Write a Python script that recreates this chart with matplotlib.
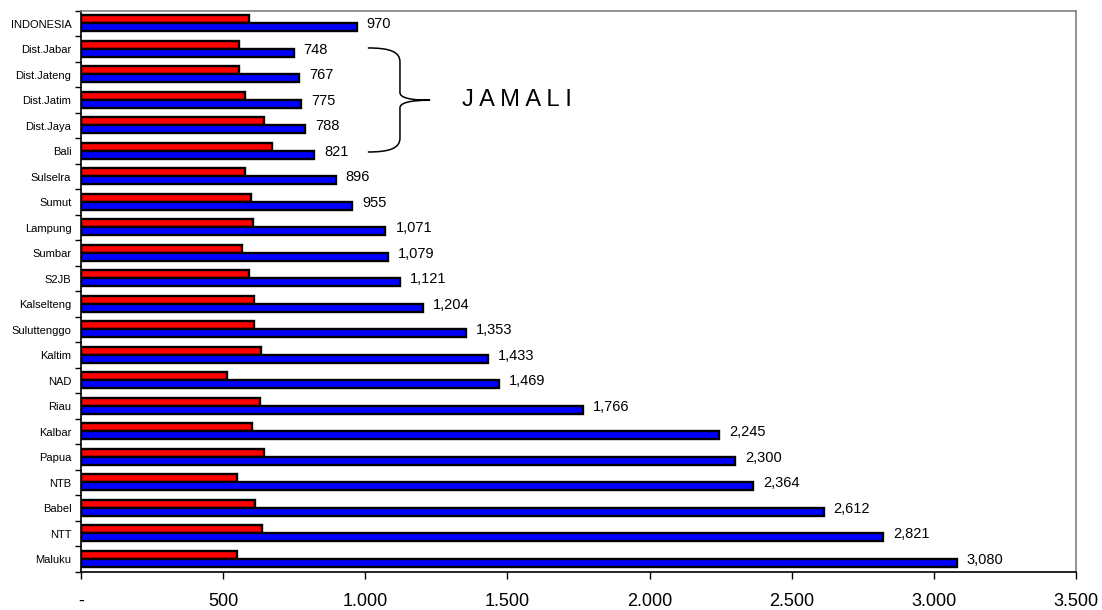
import numpy as np
import matplotlib.pyplot as plt
from matplotlib.path import Path
from matplotlib.patches import PathPatch
from matplotlib.ticker import FixedLocator

regions = ["INDONESIA", "Dist.Jabar", "Dist.Jateng", "Dist.Jatim", "Dist.Jaya", "Bali",
           "Sulselra", "Sumut", "Lampung", "Sumbar", "S2JB", "Kalselteng",
           "Suluttenggo", "Kaltim", "NAD", "Riau", "Kalbar", "Papua", "NTB",
           "Babel", "NTT", "Maluku"]
red_vals = [591, 556, 556, 577, 642, 671, 577, 597, 604, 568, 591, 609,
            609, 634, 515, 630, 603, 642, 550, 612, 637, 550]
blue_vals = [970, 748, 767, 775, 788, 821, 896, 955, 1071, 1079, 1121, 1204,
             1353, 1433, 1469, 1766, 2245, 2300, 2364, 2612, 2821, 3080]
x_ticks = [0, 500, 1000, 1500, 2000, 2500, 3000, 3500]
x_ticklabels = ["-", "500", "1.000", "1.500", "2.000", "2.500", "3.000", "3.500"]

plt.rcParams["font.family"] = ["Liberation Sans", "DejaVu Sans"]

fig = plt.figure(figsize=(11.02, 6.10), dpi=100)
ax = fig.add_axes([0.0735, 0.0623, 0.9029, 0.9197])

y = np.arange(len(regions))
h = 0.31

ax.barh(y - 0.17, red_vals, height=h, color="#ff0000",
        edgecolor="black", linewidth=1.7)
ax.barh(y + 0.14, blue_vals, height=h, color="#0000ff",
        edgecolor="black", linewidth=1.7)

# value labels for the blue series
for yi, v in zip(y, blue_vals):
    ax.text(v + 35, yi + 0.02, f"{v:,}", ha="left", va="center", fontsize=10.5)

ax.set_xlim(0, 3500)
ax.set_ylim(len(regions) - 0.5, -0.5)

ax.xaxis.set_major_locator(FixedLocator(x_ticks))
ax.set_xticklabels(x_ticklabels, fontsize=13)
ax.tick_params(axis="x", direction="out", length=5, width=1, pad=10)

ax.set_yticks(y)
ax.set_yticklabels(regions, fontsize=8)
ax.yaxis.set_minor_locator(FixedLocator(np.arange(-0.5, len(regions), 1.0)))
ax.tick_params(axis="y", which="major", length=0, pad=7)
ax.tick_params(axis="y", which="minor", direction="out", length=4, width=1)

for side in ["left", "bottom"]:
    ax.spines[side].set_color("black")
    ax.spines[side].set_linewidth(1.2)
for side in ["top", "right"]:
    ax.spines[side].set_color("#808080")
    ax.spines[side].set_linewidth(1.2)

# curly brace grouping the JAMALI regions
top, mid, bot = 0.95, 3.0, 5.03
x0, x1, xc = 1009, 1122, 1228
verts = [(x0, top), (x1 - 35, top), (x1, top + 0.15), (x1, top + 0.55),
         (x1, mid - 0.3),
         (x1, mid - 0.1), (x1 + 35, mid), (xc, mid),
         (x1 + 35, mid), (x1, mid + 0.1), (x1, mid + 0.3),
         (x1, bot - 0.55),
         (x1, bot - 0.15), (x1 - 35, bot), (x0, bot)]
codes = [Path.MOVETO, Path.CURVE4, Path.CURVE4, Path.CURVE4,
         Path.LINETO,
         Path.CURVE4, Path.CURVE4, Path.CURVE4,
         Path.CURVE4, Path.CURVE4, Path.CURVE4,
         Path.LINETO,
         Path.CURVE4, Path.CURVE4, Path.CURVE4]
ax.add_patch(PathPatch(Path(verts, codes), facecolor="none",
                       edgecolor="black", linewidth=1.1, clip_on=False))
ax.text(1340, mid, "J A M A L I", ha="left", va="center", fontsize=17)

fig.savefig("out.png", dpi=100)
